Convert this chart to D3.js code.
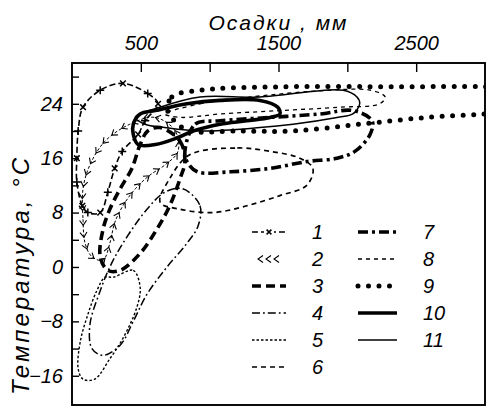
<!DOCTYPE html>
<html><head><meta charset="utf-8">
<script src="https://cdn.jsdelivr.net/npm/d3@7"></script>
<style>body{margin:0;background:#fff}</style>
</head><body>
<svg id="c" width="490" height="415"></svg>
<script>
// Each series: closed loop of [precipitation mm, temperature °C]
const series1 = [[370,27],[550,25.5],[625,24],[530,21.5],[480,19.5],[365,17],[310,14.5],[260,11],[205,8],[115,8],[75,9],[35,12.5],[35,16],[45,20],[80,23.5],[205,26]];
const series2 = [[80,11.5],[80,7],[95,3.5],[145,1.5],[225,1],[275,3.5],[310,6.5],[370,9],[460,11.5],[565,13.5],[675,15],[770,17],[750,20],[605,22],[420,21],[240,18.5],[130,15]];
const series3 = [[640,20.5],[785,18.5],[820,15.5],[785,13],[710,9],[615,5.5],[495,2],[350,-0.5],[260,-0.5],[205,1.5],[225,5.5],[275,8.5],[350,11.5],[435,14.5],[495,18],[550,20]];
const series4 = [[805,11.5],[930,9],[915,6],[835,3.5],[690,0],[545,-4],[445,-8],[350,-11.5],[225,-13],[145,-12],[130,-8.5],[205,-3.5],[275,0],[370,3.5],[545,8.5],[675,11]];
const series5 = [[300,-1.5],[445,-0.5],[495,-3],[470,-6],[370,-10.5],[275,-13.5],[165,-16.5],[80,-16.5],[45,-15],[60,-11],[115,-7],[180,-3.5],[240,-1.5]];
const series6 = [[855,16.5],[1200,17.5],[1440,17],[1655,16],[1750,14.5],[1705,12],[1510,10.5],[1270,9],[1025,8],[785,8.5],[640,9.5],[710,13]];
const series7 = [[820,17],[895,21],[1075,21.5],[1440,22],[1800,22.5],[2040,23],[2180,21.5],[2165,19.5],[2055,17],[1925,16],[1705,15.5],[1440,14.5],[1150,14],[910,14],[835,15.5]];
const series8 = [[675,22.5],[930,24],[1295,25],[1875,26],[2165,26],[2275,25],[2235,24],[1945,23.5],[1510,23],[1075,22.5],[785,22]];
const series9 = [[695,23],[725,25],[930,26],[1510,26.5],[2385,26.5],[3000,26.5],[3330,26],[3470,24.5],[3330,23],[3000,22.5],[2580,22],[2090,21],[1605,20],[1220,20],[855,20],[770,21]];
const series10 = [[445,21],[495,22.5],[605,23],[835,24],[1075,24.5],[1365,24.5],[1495,23.5],[1510,22.5],[1440,22],[1270,21.5],[1075,21],[880,20],[765,19],[605,18],[480,18],[445,19.5]];
const series11 = [[460,22],[640,23.5],[930,25],[1365,25],[1970,26],[2070,25],[2090,24],[2040,22.5],[1925,22],[1605,21],[1365,20.5],[930,20],[675,20.5],[530,21]];

const seriesNames = ["1","2","3","4","5","6","7","8","9","10","11"];
const xTickValues = [500,1000,1500,2000,2500];
const xLabelValues = [500,1500,2500];
const yTickValues = [-16,-12,-8,-4,0,4,8,12,16,20,24,28];
const yLabelValues = [-16,-8,0,8,16,24];
const xTitle = "Осадки , мм";
const yTitle = "Температура, °С";

const allSeries = [series1,series2,series3,series4,series5,series6,series7,series8,series9,series10,series11];
const styles = [
  {w:1.6, dash:"6,3"},
  {w:1, dash:"3,2"},
  {w:3.6, dash:"9,5"},
  {w:1.5, dash:"8,3,1.8,3"},
  {w:1.4, dash:"2.5,2"},
  {w:1.7, dash:"5,4"},
  {w:3.6, dash:"10,4,3,4"},
  {w:1.3, dash:"4,4"},
  {w:5, dash:"0,10.5", cap:"round"},
  {w:3.6, dash:null},
  {w:1.5, dash:null}
];

const FONT = "'Liberation Sans Narrow','Liberation Sans',Arial,sans-serif";
const svg = d3.select("#c");
const x = d3.scaleLinear().domain([0,3000]).range([72,485]);
const y = d3.scaleLinear().domain([-20.3,30]).range([405,63]);

svg.append("defs").append("clipPath").attr("id","clip")
  .append("rect").attr("x",x.range()[0]).attr("y",y.range()[1])
  .attr("width",x.range()[1]-x.range()[0]).attr("height",y.range()[0]-y.range()[1]);

// axes
const xAxis = d3.axisTop(x).tickValues(xTickValues).tickSize(-9).tickPadding(13)
  .tickFormat(d => xLabelValues.includes(d) ? String(d) : "");
const gx = svg.append("g").attr("transform",`translate(0,${y.range()[1]})`).call(xAxis);
const yAxis = d3.axisLeft(y).tickValues(yTickValues).tickSize(-7).tickPadding(9)
  .tickFormat(d => yLabelValues.includes(d) ? (d<0 ? "−"+Math.abs(d) : String(d)) : "");
const gy = svg.append("g").attr("transform",`translate(${x.range()[0]},0)`).call(yAxis);
[gx,gy].forEach(g=>{
  g.select(".domain").remove();
  g.selectAll(".tick line").attr("stroke","#000").attr("stroke-width",1.4);
  g.selectAll(".tick text").attr("fill","#000").style("font-family",FONT)
   .style("font-style","italic").style("font-size","20px");
});

// frame
svg.append("rect").attr("x",x.range()[0]).attr("y",y.range()[1])
  .attr("width",x.range()[1]-x.range()[0]).attr("height",y.range()[0]-y.range()[1])
  .attr("fill","none").attr("stroke","#000").attr("stroke-width",1.9);

// titles
svg.append("text").attr("x",(x.range()[0]+x.range()[1])/2).attr("y",30)
  .attr("text-anchor","middle").style("font-family",FONT).style("font-style","italic")
  .style("font-size","21px").style("letter-spacing","2px").text(xTitle);
svg.append("text").attr("transform","translate(29,275) rotate(-90)")
  .attr("text-anchor","middle").style("font-family",FONT).style("font-style","italic")
  .style("font-size","24px").style("letter-spacing","3px").text(yTitle);

// curves
const line = d3.line().x(d=>x(d[0])).y(d=>y(d[1])).curve(d3.curveCatmullRomClosed.alpha(0.5));
const plot = svg.append("g").attr("clip-path","url(#clip)");

function applyStyle(sel, st){
  sel.attr("fill","none").attr("stroke","#000").attr("stroke-width",st.w)
    .attr("stroke-linecap",st.cap||"butt");
  if(st.dash) sel.attr("stroke-dasharray",st.dash);
}
function cross(g, cx, cy, r, rot){
  g.append("path").attr("d",`M${-r},0L${r},0M0,${-r}L0,${r}`)
   .attr("transform",`translate(${cx},${cy}) rotate(${rot})`)
   .attr("stroke","#000").attr("stroke-width",1.5).attr("fill","none");
}
function chevron(g, cx, cy, ang){
  g.append("path").attr("d","M3,-3.5L-2,0L3,3.5")
   .attr("transform",`translate(${cx},${cy}) rotate(${ang})`)
   .attr("stroke","#000").attr("stroke-width",1.1).attr("fill","none");
}

allSeries.forEach((s,i)=>{
  const p = plot.append("path").datum(s).attr("d",line);
  applyStyle(p, styles[i]);
  if(i===0){
    s.forEach((d,j)=>cross(plot, x(d[0]), y(d[1]), 4, j%2?0:45));
  }
  if(i===1){
    const node = p.node(), L = node.getTotalLength();
    for(let t=4;t<L;t+=12){
      const a=node.getPointAtLength(t), b=node.getPointAtLength(Math.min(L,t+1));
      const ang=Math.atan2(b.y-a.y,b.x-a.x)*180/Math.PI;
      chevron(plot,a.x,a.y,ang+180);
    }
  }
});

// legend
const legCols = [{x1:252,x2:286,lx:312},{x1:358,x2:397,lx:423}];
const legRow0 = 232, legDy = 27;
seriesNames.forEach((name,i)=>{
  const col = i<6 ? legCols[0] : legCols[1];
  const row = i<6 ? i : i-6;
  const yy = legRow0 + row*legDy;
  const g = svg.append("g");
  if(i===1){
    [0,1,2].forEach(k=>chevron(g, col.x1+8+k*8, yy, 0));
  } else {
    const l = g.append("line").attr("x1",col.x1).attr("x2",col.x2).attr("y1",yy).attr("y2",yy);
    applyStyle(l, styles[i]);
    if(i===0){ g.append("rect").attr("x",(col.x1+col.x2)/2-5).attr("y",yy-4).attr("width",10).attr("height",8).attr("fill","#fff");
      cross(g,(col.x1+col.x2)/2,yy,3.4,45); }
  }
  g.append("text").attr("x",col.lx).attr("y",yy+7).style("font-family",FONT)
   .style("font-style","italic").style("font-size","20px").text(name);
});
</script>
</body></html>
